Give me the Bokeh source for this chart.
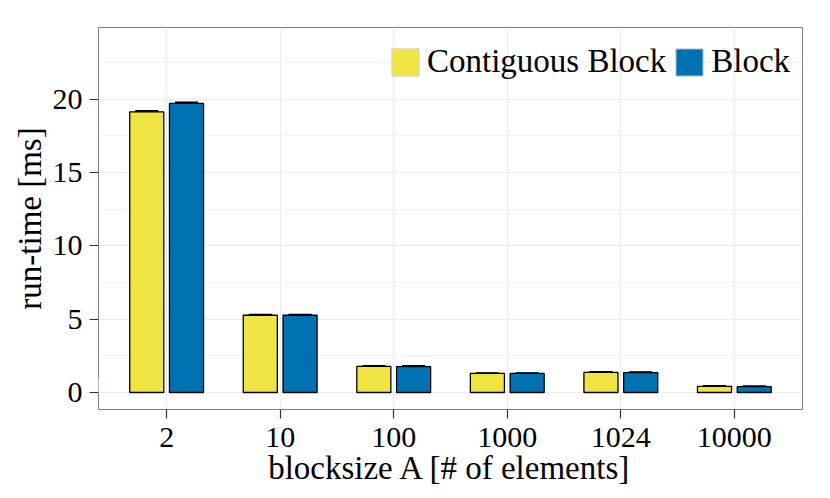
from bokeh.plotting import figure
from bokeh.models import (ColumnDataSource, Range1d, FixedTicker, Legend, LegendItem,
                          Whisker, TeeHead)
from bokeh.transform import dodge
from bokeh.embed import file_html
from bokeh.resources import INLINE

categories = ["2", "10", "100", "1000", "1024", "10000"]
contiguous = [19.15, 5.27, 1.78, 1.30, 1.37, 0.42]
block = [19.72, 5.27, 1.77, 1.30, 1.36, 0.40]
contiguous_err = [0.06, 0.03, 0.03, 0.02, 0.02, 0.02]
block_err = [0.06, 0.03, 0.03, 0.02, 0.02, 0.02]
series_names = ["Contiguous Block", "Block"]
colors = ["#F0E442", "#0072B2"]
y_ticks = [0, 5, 10, 15, 20]

FONT = "Liberation Serif"
pos = list(range(1, len(categories) + 1))

src = ColumnDataSource(dict(
    x=pos, c=contiguous, b=block,
    c_lo=[v - e for v, e in zip(contiguous, contiguous_err)],
    c_hi=[v + e for v, e in zip(contiguous, contiguous_err)],
    b_lo=[v - e for v, e in zip(block, block_err)],
    b_hi=[v + e for v, e in zip(block, block_err)],
))

p = figure(frame_width=704, frame_height=382, output_backend="svg", toolbar_location=None,
           x_range=Range1d(0.4, 6.6), y_range=Range1d(-1.16, 24.9),
           min_border_left=98, min_border_right=20, min_border_top=27, min_border_bottom=81)
p.background_fill_color = "white"
p.outline_line_color = "#7f7f7f"
p.outline_line_width = 1

p.xaxis.ticker = FixedTicker(ticks=pos)
p.xaxis.major_label_overrides = {i: c for i, c in zip(pos, categories)}
p.yaxis.ticker = FixedTicker(ticks=y_ticks, minor_ticks=[-2.5, 2.5, 7.5, 12.5, 17.5, 22.5])
p.xgrid.grid_line_color = "#ebebeb"
p.ygrid.grid_line_color = "#ebebeb"
p.ygrid.minor_grid_line_color = "#f3f3f3"

for ax in (p.xaxis[0], p.yaxis[0]):
    ax.axis_line_color = None
    ax.major_tick_line_color = "#333333"
    ax.major_tick_line_width = 1.2
    ax.major_tick_out = 9
    ax.major_tick_in = 0
    ax.minor_tick_line_color = None
    ax.major_label_text_font = FONT
    ax.major_label_text_font_size = "30px"
    ax.major_label_text_color = "black"
    ax.axis_label_text_font = FONT
    ax.axis_label_text_font_size = "33px"
    ax.axis_label_text_font_style = "normal"
    ax.axis_label_text_color = "black"
    ax.major_label_standoff = 9

p.xaxis.axis_label = "blocksize A [# of elements]"
p.yaxis.axis_label = "run-time [ms]"
p.xaxis.axis_label_standoff = 0
p.yaxis.axis_label_standoff = 2
p.yaxis.major_label_standoff = 7

p.vbar(x=dodge("x", -0.175), top="c", bottom=0, width=0.3, source=src,
       fill_color=colors[0], line_color="black", line_width=1.3)
p.vbar(x=dodge("x", 0.175), top="b", bottom=0, width=0.3, source=src,
       fill_color=colors[1], line_color="black", line_width=1.3)

for col, off in (("c", -0.175), ("b", 0.175)):
    w = Whisker(base=dodge("x", off), lower=col + "_lo", upper=col + "_hi", source=src,
                line_color="black", line_width=1.5,
                upper_head=TeeHead(size=23, line_color="black", line_width=2),
                lower_head=TeeHead(size=23, line_color="black", line_width=2))
    p.add_layout(w)

# legend keys (no black outline); placed outside the visible range
key_src = ColumnDataSource(dict(x=[-10], top=[1]))
r0 = p.vbar(x="x", top="top", width=0.3, source=key_src, fill_color=colors[0], line_color="#d0d0d0")
r1 = p.vbar(x="x", top="top", width=0.3, source=key_src, fill_color=colors[1], line_color="#d0d0d0")
legend = Legend(items=[LegendItem(label=series_names[0], renderers=[r0]),
                       LegendItem(label=series_names[1], renderers=[r1])],
                orientation="horizontal", location=(290, 329),
                border_line_color=None, background_fill_alpha=0,
                label_text_font=FONT, label_text_font_size="33px", label_text_color="black",
                glyph_width=34, glyph_height=34, label_height=34,
                label_standoff=5, spacing=6, padding=0, margin=0)
p.add_layout(legend)

open("out.html", "w").write(file_html(p, INLINE))
